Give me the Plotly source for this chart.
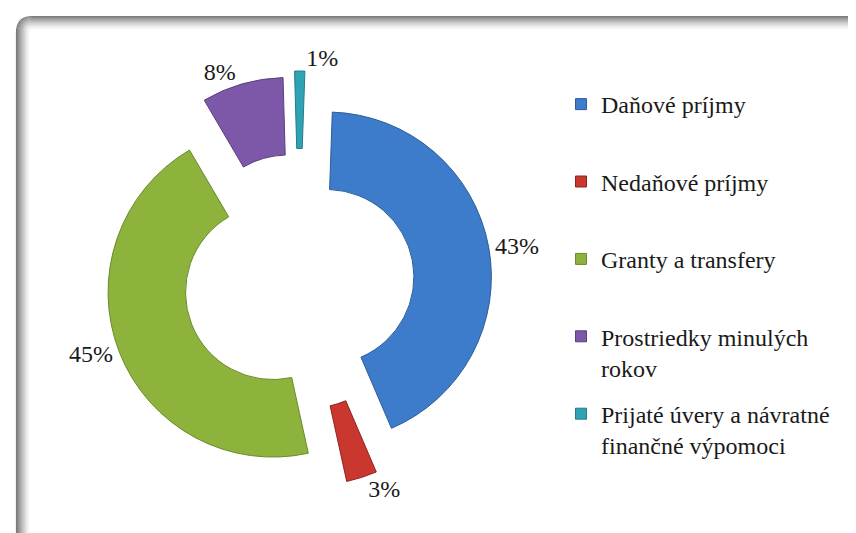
import plotly.graph_objects as go

# ---- data ----
categories = ["Daňové príjmy", "Nedaňové príjmy", "Granty a transfery",
              "Prostriedky minulých rokov", "Prijaté úvery a návratné finančné výpomoci"]
legend_labels = ["Daňové príjmy", "Nedaňové príjmy", "Granty a transfery",
                 "Prostriedky minulých<br>rokov", "Prijaté úvery a návratné<br>finančné výpomoci"]
values = [43, 3, 45, 8, 1]
colors = ["#3D7CCB", "#C9372F", "#8DB33C", "#7D58A8", "#2FA2B6"]
edge_colors = ["#2C5C98", "#8E2420", "#6A8A2B", "#5A3F7E", "#237C8C"]
pulls = [0.17, 0.245, 0.17, 0.25, 0.28]

W, H = 856, 533
FONT = "Liberation Serif"


def px(x):
    return x / W


def py(y):
    return 1 - y / H


fig = go.Figure()

fig.add_trace(go.Pie(
    labels=categories,
    values=values,
    hole=0.53,
    sort=False,
    direction="clockwise",
    rotation=2,
    pull=pulls,
    marker=dict(colors=colors, line=dict(color=edge_colors, width=1)),
    texttemplate="%{percent:.0%}",
    textposition="outside",
    outsidetextfont=dict(family=FONT, size=24, color="#1a1a1a"),
    domain=dict(x=[px(80), px(502)], y=[py(485), py(63)]),
    showlegend=False,
    automargin=False,
    hoverinfo="label+percent",
))

# legend entries (one per category, spaced via tracegroupgap)
for lab, c, ec in zip(legend_labels, colors, edge_colors):
    text = lab if "<br>" in lab else lab + "<br> "
    fig.add_trace(go.Scatter(
        x=[None], y=[None], mode="markers", name=text, legendgroup=lab,
        marker=dict(symbol="square", size=11, color=c, line=dict(color=ec, width=1)),
        showlegend=True, hoverinfo="skip",
    ))

# inset shadow frame (top and left edges, rounded corner)
shapes = []
N = 14
for d in range(N):
    t = d / N
    alpha = 0.9 * (1 - t) ** 1.5
    x0 = 8 + d + 0.5
    y0 = 8 + d + 0.5
    r = max(16 - d, 2)
    path = (f"M {px(x0)},{py(H)} L {px(x0)},{py(y0 + r)} "
            f"Q {px(x0)},{py(y0)} {px(x0 + r)},{py(y0)} L {px(W)},{py(y0)}")
    shapes.append(dict(type="path", xref="paper", yref="paper", path=path,
                       line=dict(color=f"rgba(110,110,110,{alpha:.3f})", width=1.2),
                       layer="above"))

fig.update_layout(
    width=W, height=H,
    margin=dict(l=0, r=0, t=0, b=0, autoexpand=False),
    paper_bgcolor="white",
    plot_bgcolor="white",
    xaxis=dict(visible=False),
    yaxis=dict(visible=False),
    font=dict(family=FONT, color="#1a1a1a"),
    legend=dict(
        x=px(553), y=py(74), xanchor="left", yanchor="top",
        traceorder="grouped", tracegroupgap=12, valign="top",
        font=dict(family=FONT, size=24, color="#1a1a1a"),
        bgcolor="rgba(0,0,0,0)",
    ),
    shapes=shapes,
)

fig.write_html("out.html")
